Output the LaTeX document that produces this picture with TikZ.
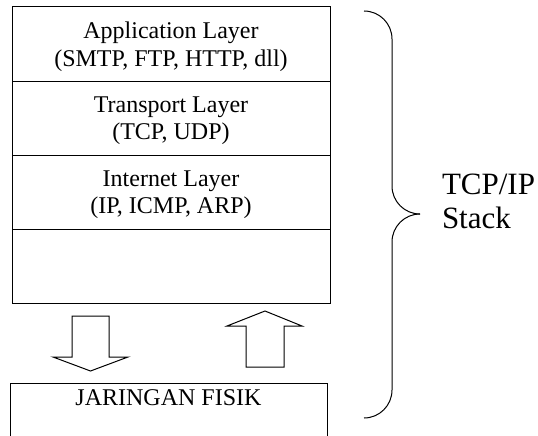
\documentclass[tikz,border=0pt]{standalone}
\usepackage{fontspec}
\setmainfont{Liberation Serif}
\usepackage{tikz}
\usetikzlibrary{positioning}

\begin{document}
\begin{tikzpicture}[
  x=1pt,y=-1pt,
  every node/.style={align=center,inner sep=0pt,outer sep=0pt},
  layer/.style={draw,line width=1pt,minimum width=318pt,minimum height=74pt,text depth=0pt,font=\fontsize{24}{27.6}\selectfont},
  physbox/.style={draw,line width=1pt,minimum width=317pt,minimum height=100pt},
  blockarrow/.style={draw,line width=1pt,line join=miter},
  bracestyle/.style={draw,line width=1pt,rounded corners=28pt}
]
\useasboundingbox (0,0) rectangle (538,436);
\clip (0,0) rectangle (538,436);
% protocol layers
\node[layer] (app) at (171,44) {Application Layer\\(SMTP, FTP, HTTP, dll)};
\node[layer,below=0pt of app] (trans) {Transport Layer\\(TCP, UDP)};
\node[layer,below=0pt of trans] (inet) {Internet Layer\\(IP, ICMP, ARP)};
\node[layer,below=0pt of inet] (blank) {};
% physical network
\node[physbox,anchor=north] (fisik) at (168.5,383) {};
\node[font=\fontsize{24}{27.6}\selectfont] (fisiklbl) at ([yshift=-15pt]fisik.north) {JARINGAN FISIK};
% down / up block arrows
\draw[blockarrow] (72,316) -- (109,316) -- (109,357) -- (128,357) -- (90.5,371) -- (53,357) -- (72,357) -- cycle;
\draw[blockarrow] (246,367) -- (284,367) -- (284,326) -- (302,326) -- (265,311) -- (227,326) -- (246,326) -- cycle;
% brace
\draw[bracestyle] (364,11) -- (392,11) -- (392,214) -- (420,214);
\draw[bracestyle] (420,214) -- (392,214) -- (392,418) -- (364,418);
\node[anchor=west,align=left,font=\fontsize{31}{34}\selectfont] (stack) at (442,201) {TCP/IP\\Stack};
\end{tikzpicture}
\end{document}
